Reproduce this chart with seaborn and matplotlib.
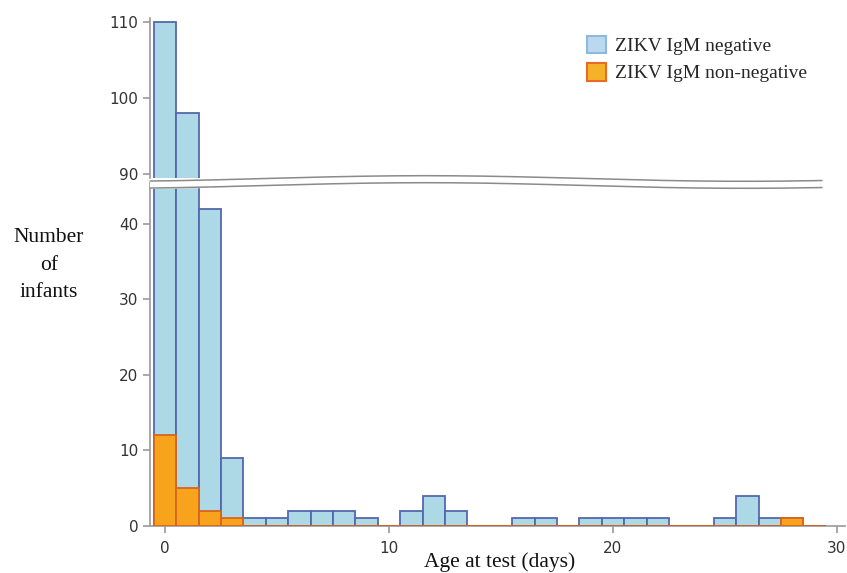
import numpy as np
import pandas as pd
import matplotlib
matplotlib.use("Agg")
import matplotlib.pyplot as plt
import seaborn as sns
from matplotlib.patches import Patch
from matplotlib.lines import Line2D
from matplotlib.patches import Polygon

days = list(range(30))
negative = [110, 98, 42, 9, 1, 1, 2, 2, 2, 1, 0, 2, 4, 2, 0, 0, 1, 1, 0, 1,
            1, 1, 1, 0, 0, 1, 4, 1, 1, 0]
non_negative = [12, 5, 2, 1, 0, 0, 0, 0, 0, 0, 0, 0, 0, 0, 0, 0, 0, 0, 0, 0,
                0, 0, 0, 0, 0, 0, 0, 0, 1, 0]
x_ticks = [0, 10, 20, 30]
low_ticks = [0, 10, 20, 30, 40]
high_ticks = [90, 100, 110]

df = pd.DataFrame({"day": days, "neg": negative, "pos": non_negative})

sns.set_style("white")
W, H = 847, 573
fig = plt.figure(figsize=(W / 100, H / 100), dpi=100)

def fx(px):
    return px / W

def fy(py):
    return 1 - py / H

left, right = fx(150), fx(845)
ax_hi = fig.add_axes([left, fy(178), right - left, fy(18) - fy(178)])
ax_lo = fig.add_axes([left, fy(526), right - left, fy(183) - fy(526)])

blue_fill, blue_edge = "#ADD8E6", "#5468AC"
orange_fill, orange_edge = "#F8A31C", "#D8641E"

for ax in (ax_hi, ax_lo):
    sns.histplot(data=df, x="day", weights="neg", discrete=True, ax=ax,
                 color=blue_fill, edgecolor=blue_edge, linewidth=1.3, alpha=1)
    sns.histplot(data=df, x="day", weights="pos", discrete=True, ax=ax,
                 color=orange_fill, edgecolor=orange_edge, linewidth=1.3, alpha=1)
    for p in ax.patches:
        p.set_zorder(3)
    ax.set_xlim(-0.67, 30.36)
    ax.set_xlabel("")
    ax.set_ylabel("")
    for s in ("top", "right"):
        ax.spines[s].set_visible(False)
    ax.spines["left"].set_color("#9a9a9a")
    ax.spines["bottom"].set_color("#9a9a9a")
    ax.spines["left"].set_linewidth(1.2)
    ax.spines["bottom"].set_linewidth(1.2)
    ax.tick_params(axis="both", colors="#9a9a9a", labelcolor="#333333",
                   labelsize=11, length=5, width=1.2, direction="out",
                   left=True, bottom=True)

ax_hi.set_ylim(89.5, 110.5)
ax_hi.set_yticks(high_ticks)
ax_hi.spines["bottom"].set_visible(False)
ax_hi.tick_params(axis="x", bottom=False, labelbottom=False)

ax_lo.set_ylim(0, 45.4)
ax_lo.set_yticks(low_ticks)
ax_lo.set_xticks(x_ticks)
ax_lo.tick_params(axis="x", pad=6)
ax_lo.spines["left"].set_bounds(0, 45.4)

# wavy axis break drawn across the plot
xs = np.linspace(150, 822, 300)
wave = 2.8 * np.sin((xs - 150) / 670 * 2 * np.pi * 1.05 + 2.0)
y_top = 178.5 + wave
y_bot = 185.5 + wave
poly = np.concatenate([np.column_stack([fx(xs), fy(y_top - 1)]),
                       np.column_stack([fx(xs[::-1]), fy(y_bot[::-1] + 1)])])
fig.add_artist(Polygon(poly, closed=True, facecolor="white", edgecolor="none",
                       transform=fig.transFigure, zorder=5))
fig.add_artist(Line2D(fx(xs), fy(y_top), color="#8a8a8a", lw=1.1,
                      transform=fig.transFigure, zorder=6))
fig.add_artist(Line2D(fx(xs), fy(y_bot), color="#8a8a8a", lw=1.1,
                      transform=fig.transFigure, zorder=6))

serif = ["Liberation Serif", "DejaVu Serif"]
fig.text(fx(49), fy(265), "Number\nof\ninfants", ha="center", va="center",
         family=serif, fontsize=15.5, linespacing=1.62, color="#111111")
fig.text(fx(500), fy(562), "Age at test (days)", ha="center", va="center",
         family=serif, fontsize=15.5, color="#111111")

handles = [Patch(facecolor="#BBD9EE", edgecolor="#8FB8DF", linewidth=1.5,
                 label="ZIKV IgM negative"),
           Patch(facecolor="#F5B228", edgecolor="#E86A25", linewidth=1.5,
                 label="ZIKV IgM non-negative")]
fig.legend(handles=handles, loc="upper left",
           bbox_to_anchor=(fx(573), fy(22)), bbox_transform=fig.transFigure,
           frameon=False, prop={"family": serif, "size": 14.0},
           handlelength=1.0, handleheight=1.0, handletextpad=0.45,
           labelspacing=0.42, borderpad=0.2)

fig.savefig("out.png", dpi=100)
